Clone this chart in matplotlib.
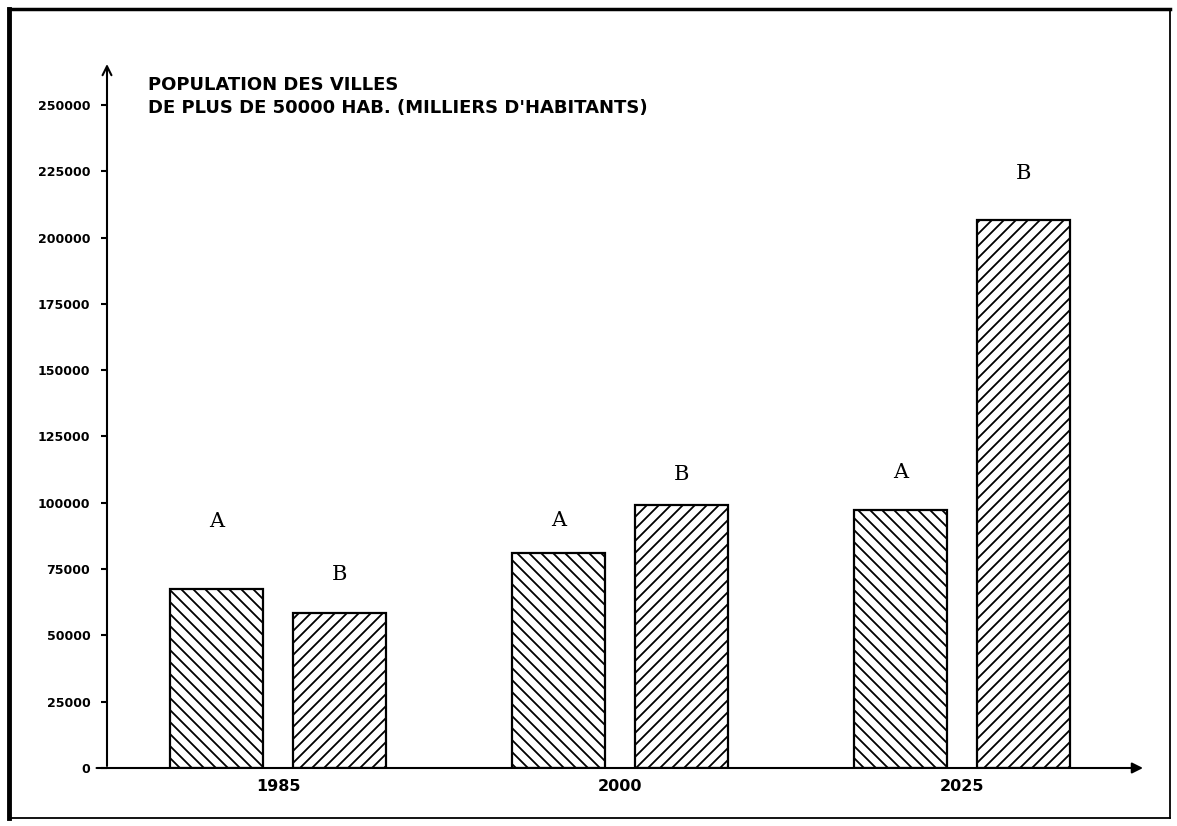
import matplotlib.pyplot as plt
import numpy as np

# populations (milliers d'habitants)
annees = ['1985', '2000', '2025']
serie_a = [67500, 81000, 97300]
serie_b = [58600, 99200, 206600]
graduations = [0, 25000, 50000, 75000, 100000, 125000, 150000, 175000, 200000, 225000, 250000]

# hauteur des lettres A / B au-dessus des barres
decal_a = [25600, 12500, 14300]
decal_b = [14200, 11300, 17700]

# 72 dpi : les hachures sont plus serrees, k convertit les tailles
DPI = 72
k = 100 / DPI
W, H = 1177, 826

plt.rcParams['hatch.linewidth'] = 1.3 * k

fig = plt.figure(figsize=(W / DPI, H / DPI), dpi=DPI)
ax = fig.add_axes([107/W, 1-768/H, (1145-107)/W, (768-62)/H])

x = np.arange(len(annees))
larg = 0.272
ecart = 0.18

ax.bar(x - ecart, serie_a, larg, color='white', edgecolor='black', linewidth=1.6*k, hatch='\\\\')
ax.bar(x + ecart, serie_b, larg, color='white', edgecolor='black', linewidth=1.6*k, hatch='//')

for i in range(len(annees)):
    ax.text(x[i] - ecart, serie_a[i] + decal_a[i], 'A', ha='center', va='center',
            family='DejaVu Serif', fontsize=15*k)
    ax.text(x[i] + ecart, serie_b[i] + decal_b[i], 'B', ha='center', va='center',
            family='DejaVu Serif', fontsize=15*k)

ax.set_xlim(-0.5, 2.535)
ax.set_ylim(0, 266200)

for s in ax.spines.values():
    s.set_visible(False)

# axes avec fleches
ax.annotate('', xy=(1, 0), xytext=(-0.012, 0), xycoords='axes fraction',
            arrowprops=dict(arrowstyle='-|>', color='black', lw=1.5*k, mutation_scale=16*k))
ax.annotate('', xy=(0, 1), xytext=(0, 0), xycoords='axes fraction',
            arrowprops=dict(arrowstyle='->', color='black', lw=1.5*k, mutation_scale=16*k))

ax.set_yticks(graduations)
ax.set_yticklabels([str(g) for g in graduations], fontsize=9*k, fontweight='bold')
ax.tick_params(axis='y', length=4*k, width=1.5*k, pad=8*k)
ax.set_xticks(x)
ax.set_xticklabels(annees, fontsize=11.5*k, fontweight='bold')
ax.tick_params(axis='x', length=0, pad=8*k)

fig.text(148/W, 1-85/H, 'POPULATION DES VILLES', fontsize=13*k, fontweight='bold', va='center')
fig.text(148/W, 1-108/H, "DE PLUS DE 50000 HAB. (MILLIERS D'HABITANTS)", fontsize=13*k,
         fontweight='bold', va='center')

# cadre
fig.add_artist(plt.Line2D([9/W, 9/W], [1-9/H, 1-818/H], color='black', lw=3.5*k))
fig.add_artist(plt.Line2D([9/W, 1170/W], [1-9/H, 1-9/H], color='black', lw=2.5*k))
fig.add_artist(plt.Line2D([1170/W, 1170/W], [1-9/H, 1-818/H], color='black', lw=1.3*k))
fig.add_artist(plt.Line2D([9/W, 1170/W], [1-818/H, 1-818/H], color='black', lw=1.3*k))

fig.savefig('out.png', dpi=DPI)
